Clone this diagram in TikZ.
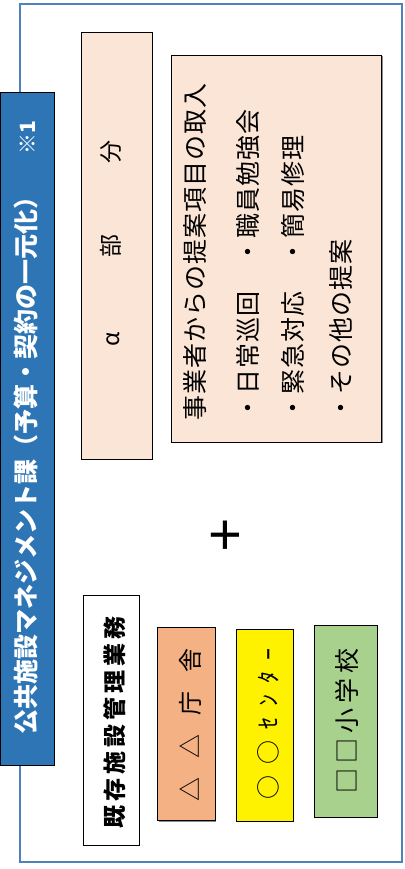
\documentclass[tikz,border=0pt]{standalone}
\usepackage{fontspec}
\setmainfont{Liberation Sans}
\newfontfamily\jp{Noto Sans CJK JP}
\newfontfamily\jpls{Noto Sans CJK JP}[LetterSpace=4]
\usetikzlibrary{shadows}
\definecolor{frameblue}{RGB}{79,129,189}
\definecolor{titleblue}{RGB}{46,117,182}
\definecolor{peach}{RGB}{251,229,214}
\definecolor{orangebox}{RGB}{244,177,131}
\definecolor{greenbox}{RGB}{169,209,142}
\tikzset{
  box/.style={draw=black, line width=0.9pt, inner sep=0pt,
    drop shadow={shadow xshift=1.2pt, shadow yshift=-1.2pt, opacity=0.45, fill=black}},
  vtext/.style={rotate=90, inner sep=0pt, font=\jp},
  proptext/.style={vtext, anchor=west, font=\jpls\fontsize{25}{25}\selectfont},
}
\begin{document}
\begin{tikzpicture}[x=1pt, y=-1pt]
\useasboundingbox (0,0) rectangle (404,869);
% outer frame
\node[draw=frameblue, line width=2.2pt, minimum width=382pt, minimum height=858pt, inner sep=0pt] (frame) at (211,433) {};
% title
\node[draw=black, line width=0.8pt, fill=titleblue, minimum width=54pt, minimum height=673pt, inner sep=0pt] (titlebox) at (27,428.5) {};
\node[vtext, anchor=west, text=white, font=\jp\bfseries\fontsize{25}{25}\selectfont] (title) at (26,735)
  {公共施設マネジメント課（予算・契約の一元化）\hspace{30pt}{\fontsize{21}{21}\selectfont ※1}};
% alpha box
\node[box, fill=peach, minimum width=71pt, minimum height=427pt] (alphabox) at (116.5,245.5) {};
\node[vtext, anchor=west, font=\jp\fontsize{23}{23}\selectfont] (alpha) at (111,351.5)
  {\makebox[23pt]{α}\hspace{71pt}部\hspace{71pt}分};
% proposal box
\node[box, fill=peach, minimum width=210pt, minimum height=387pt] (propbox) at (276.5,248.5) {};
\node[proptext] (p1) at (195,421) {事業者からの提案項目の取入};
\node[proptext] (p2) at (248,421) {・日常巡回　・職員勉強会};
\node[proptext] (p3) at (293,421) {・緊急対応　・簡易修理};
\node[proptext] (p4) at (341,421) {・その他の提案};
% plus
\node[inner sep=0pt, font=\fontsize{58}{58}\selectfont] (plus) at (225,537.5) {+};
% bottom boxes
\node[box, fill=white, minimum width=56pt, minimum height=250pt] (kizonbox) at (111,720) {};
\node[vtext, font=\jp\bfseries\fontsize{23}{23}\selectfont] (kizon) at (115,722)
  {既\hspace{4pt}存\hspace{4pt}施\hspace{4pt}設\hspace{4pt}管\hspace{4pt}理\hspace{4pt}業\hspace{4pt}務};
\node[box, fill=orangebox, minimum width=57.5pt, minimum height=193pt] (chosyabox) at (186.25,724) {};
\node[vtext, font=\jp\fontsize{24}{24}\selectfont] (chosya) at (190,725)
  {△\hspace{19pt}△\hspace{19pt}庁\hspace{19pt}舎};
\node[box, fill=yellow, minimum width=57pt, minimum height=192pt] (centerbox) at (264.5,725) {};
\node[vtext, font=\jp\fontsize{24}{24}\selectfont] (center) at (268,724)
  {○\hspace{11pt}○\hspace{11pt}ｾ\hspace{11pt}ﾝ\hspace{11pt}ﾀ\hspace{11pt}ｰ};
\node[box, fill=greenbox, minimum width=62.5pt, minimum height=191.5pt] (schoolbox) at (345.75,721.25) {};
\node[vtext, font=\jp\fontsize{25}{25}\selectfont] (school) at (347,721)
  {□\hspace{5pt}□\hspace{5pt}小\hspace{5pt}学\hspace{5pt}校};
\end{tikzpicture}
\end{document}
